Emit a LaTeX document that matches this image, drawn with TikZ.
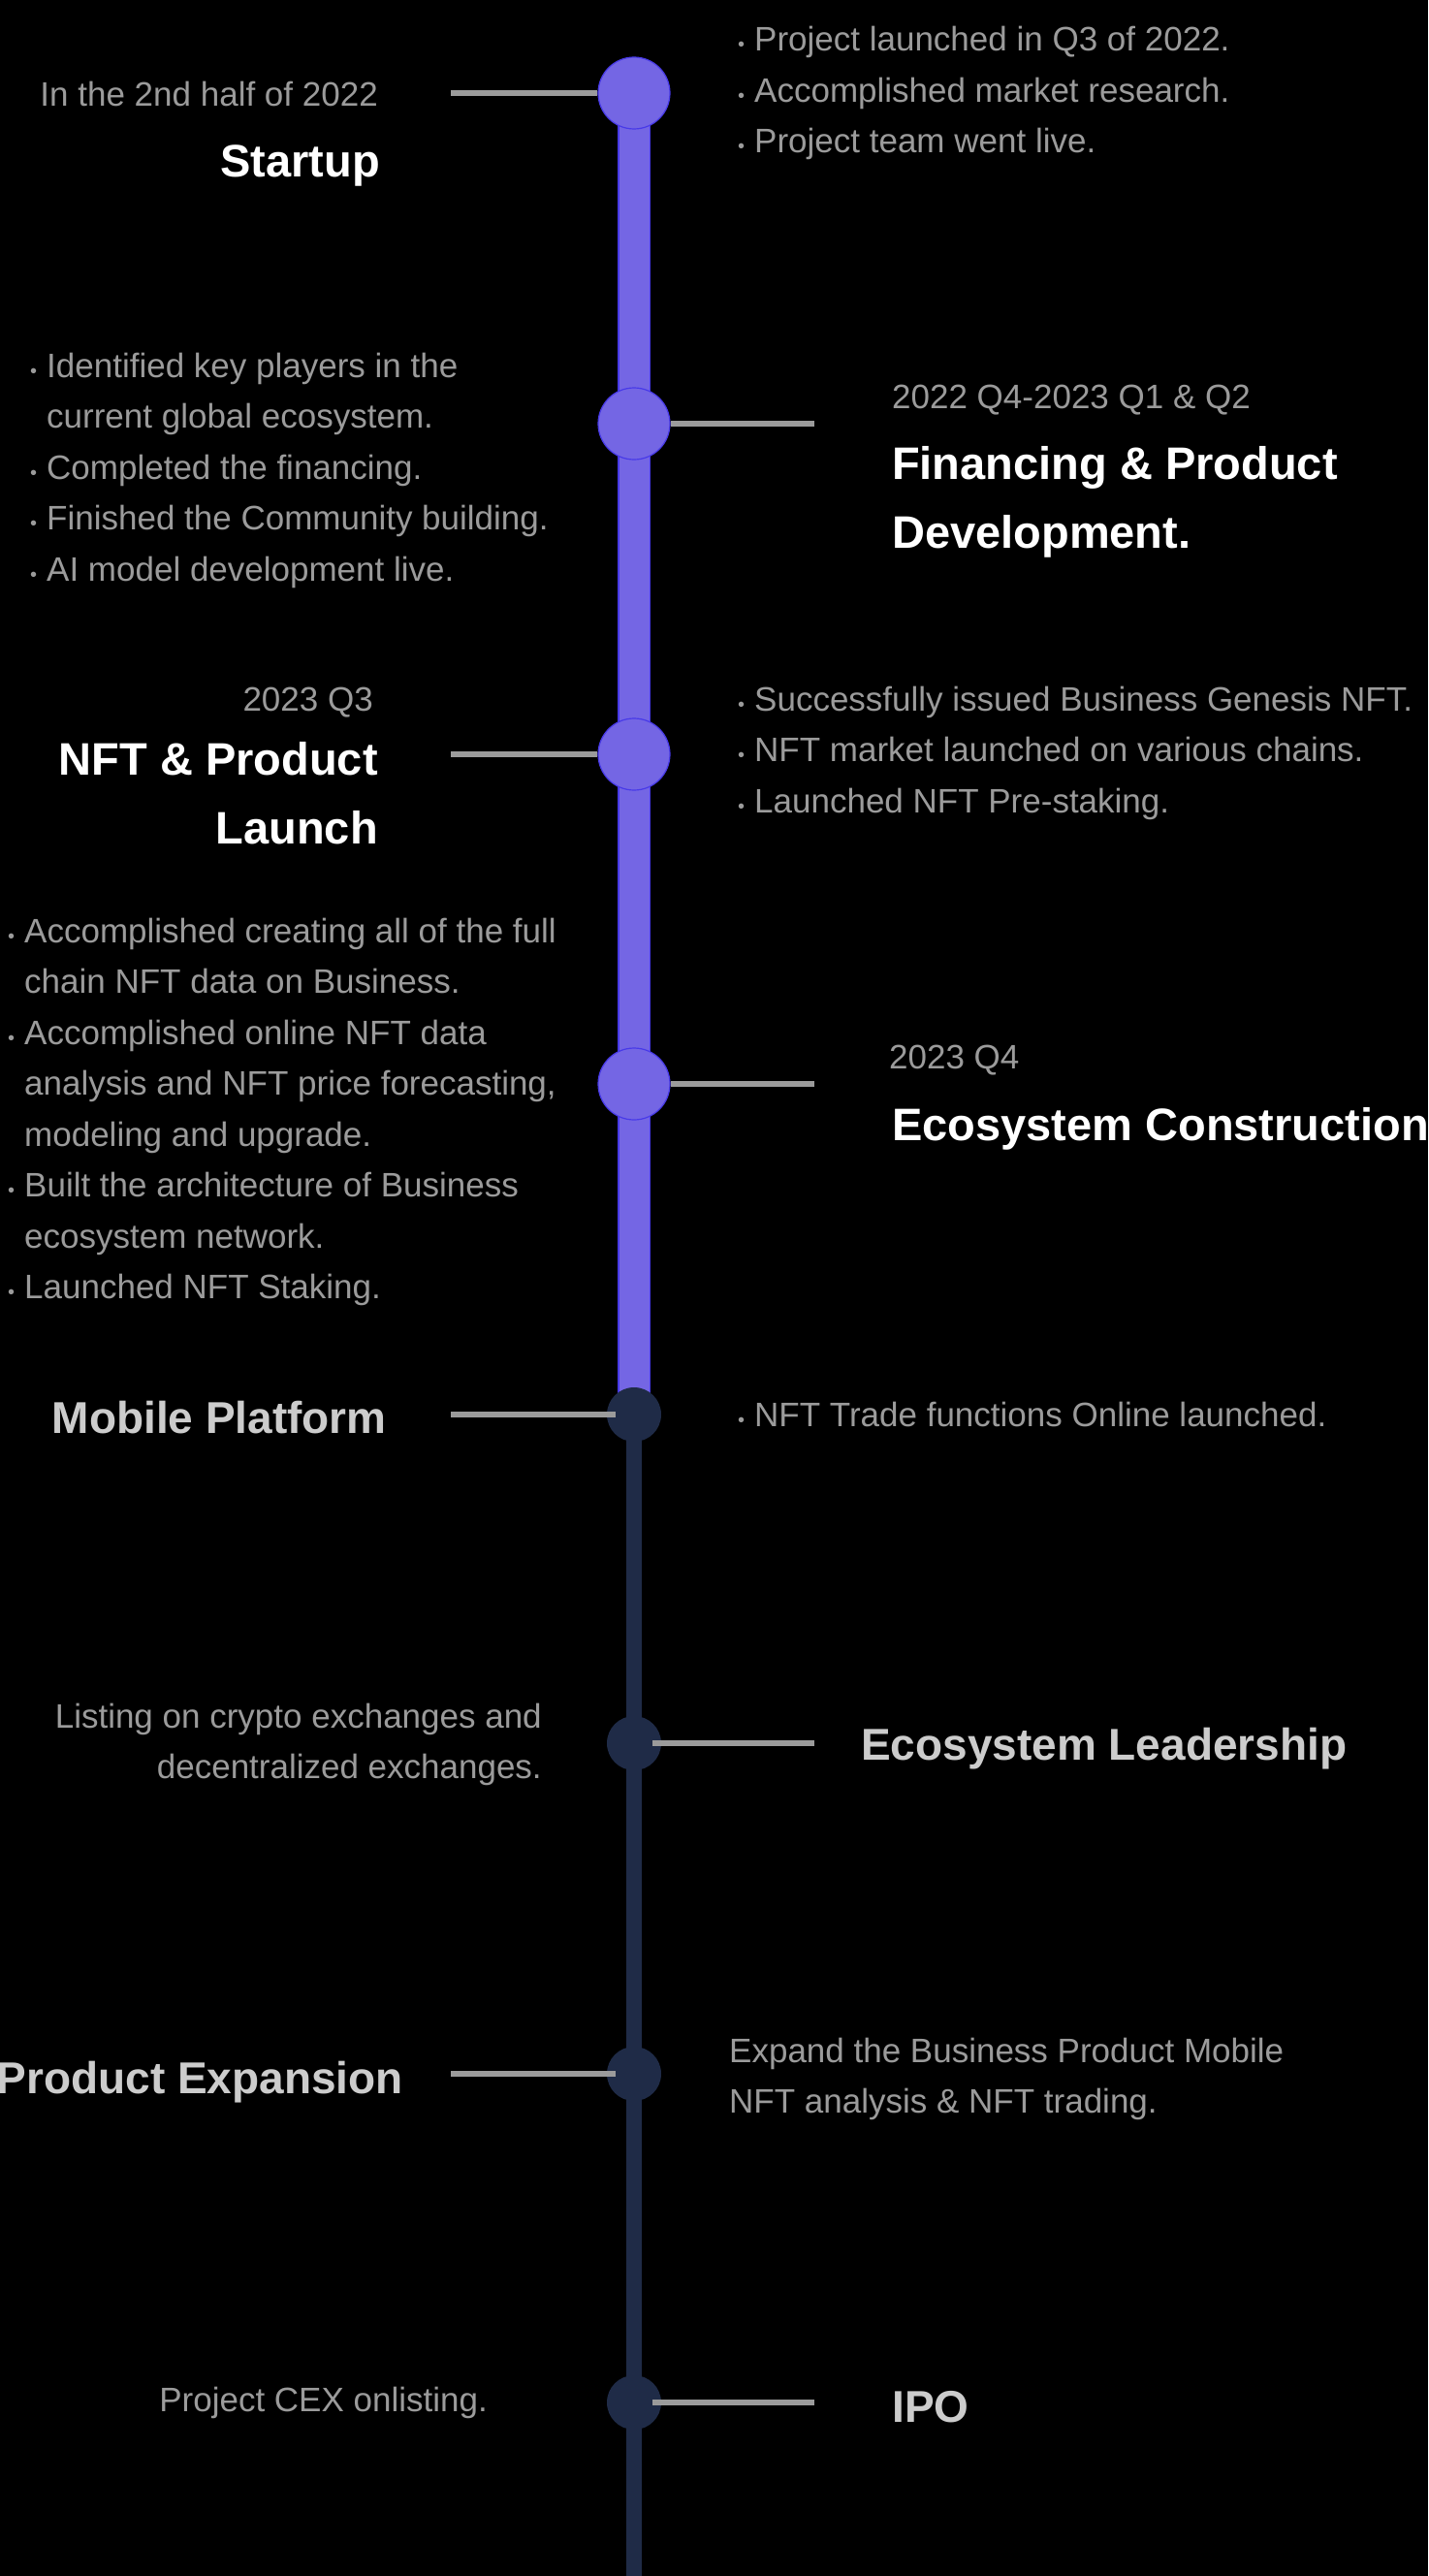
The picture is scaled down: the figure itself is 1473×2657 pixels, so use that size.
\documentclass[tikz,border=0pt]{standalone}
\usepackage{fontspec}
\setmainfont{Liberation Sans}
\definecolor{purp}{RGB}{116,102,228}
\definecolor{purpedge}{RGB}{72,58,232}
\definecolor{navy}{RGB}{31,43,71}
\definecolor{linkgray}{RGB}{155,155,155}
\definecolor{bodygray}{RGB}{155,155,155}
\definecolor{futuregray}{RGB}{204,204,204}
% hanging list marker
\newcommand\itm{\makebox[0pt][r]{{\fontsize{20}{20}\selectfont\textbullet}\hspace{10pt}}}
\tikzset{
  body/.style={font=\fontsize{35}{52.5}\selectfont, text=bodygray, inner sep=0pt},
  body right/.style={body, align=left, anchor=base west},
  body left/.style={body, align=right, anchor=base east},
  heading/.style={font=\fontsize{47}{71}\selectfont\bfseries, text=white, inner sep=0pt},
  future/.style={font=\fontsize{46}{62}\selectfont\bfseries, text=futuregray, inner sep=0pt},
  done/.style={circle, fill=purp, draw=purpedge, line width=1.2pt, minimum size=74pt, inner sep=0pt},
  todo/.style={circle, fill=navy, minimum size=56pt, inner sep=0pt},
  link/.style={draw=linkgray, line width=6pt},
}
\begin{document}
\begin{tikzpicture}[x=1pt,y=-1pt]
\fill[black] (0,0) rectangle (1473,2657);
\useasboundingbox (0,0) rectangle (1473,2657);

% milestone positions on the axis
\coordinate (p1) at (654,96);
\coordinate (p2) at (654,437);
\coordinate (p3) at (654,778);
\coordinate (p4) at (654,1118);
\coordinate (p5) at (654,1459);
\coordinate (p6) at (654,1798);
\coordinate (p7) at (654,2139);
\coordinate (p8) at (654,2478);
\coordinate (tail) at (654,2657);

% axis: upcoming part, then completed part
\draw[navy, line width=16pt] (p5) -- (tail);
\draw[purpedge, line width=34pt] (p1) -- (p5);
\draw[purp, line width=31pt] (p1) -- (p5);

% milestones
\node[done] (m1) at (p1) {};
\node[done] (m2) at (p2) {};
\node[done] (m3) at (p3) {};
\node[done] (m4) at (p4) {};
\node[todo] (m5) at (p5) {};
\node[todo] (m6) at (p6) {};
\node[todo] (m7) at (p7) {};
\node[todo] (m8) at (p8) {};

% connector ends
\coordinate (k1) at (465,96);
\coordinate (k2) at (840,437);
\coordinate (k3) at (465,778);
\coordinate (k4) at (840,1118);
\coordinate (k5) at (465,1459);
\coordinate (k6) at (840,1798);
\coordinate (k7) at (465,2139);
\coordinate (k8) at (840,2478);

\draw[link] (m1.west) -- (k1);
\draw[link] (m2.east) -- (k2);
\draw[link] (m3.west) -- (k3);
\draw[link] (m4.east) -- (k4);
\draw[link, shorten <=-9pt] (m5.west) -- (k5);
\draw[link, shorten <=-9pt] (m6.east) -- (k6);
\draw[link, shorten <=-9pt] (m7.west) -- (k7);
\draw[link, shorten <=-9pt] (m8.east) -- (k8);

% (multi-line nodes sit on the baseline of their last line)

% 1 -- Startup
\node[body left] (d1) at (390,110) {In the 2nd half of 2022};
\node[heading, anchor=base east] (t1) at (392,183) {Startup};
\node[body right] (b1) at (778,158) {\itm Project launched in Q3 of 2022.\\
  \itm Accomplished market research.\\
  \itm Project team went live.};

% 2 -- Financing & Product Development
\node[body right] (b2) at (48,599) {\itm Identified key players in the\\
  current global ecosystem.\\
  \itm Completed the financing.\\
  \itm Finished the Community building.\\
  \itm AI model development live.};
\node[body, anchor=base west] (d2) at (920,421) {2022 Q4-2023 Q1 \& Q2};
\node[heading, align=left, anchor=base west] (t2) at (920,565) {Financing \& Product\\Development.};

% 3 -- NFT & Product Launch
\node[body left] (d3) at (385,733) {2023 Q3};
\node[heading, align=right, anchor=base east] (t3) at (390,870) {NFT \& Product\\Launch};
\node[body right] (b3) at (778,838) {\itm Successfully issued Business Genesis NFT.\\
  \itm NFT market launched on various chains.\\
  \itm Launched NFT Pre-staking.};

% 4 -- Ecosystem Construction
\node[body right] (b4) at (25,1339.5) {\itm Accomplished creating all of the full\\
  chain NFT data on Business.\\
  \itm Accomplished online NFT data\\
  analysis and NFT price forecasting,\\
  modeling and upgrade.\\
  \itm Built the architecture of Business\\
  ecosystem network.\\
  \itm Launched NFT Staking.};
\node[body, anchor=base west] (d4) at (917,1102) {2023 Q4};
\node[heading, anchor=base west] (t4) at (920,1176) {Ecosystem Construction};

% 5 -- Mobile Platform
\node[future, anchor=base east] (t5) at (399,1478) {Mobile Platform};
\node[body right] (b5) at (778,1471) {\itm NFT Trade functions Online launched.};

% 6 -- Ecosystem Leadership
\node[body left] (b6) at (559,1834.5) {Listing on crypto exchanges and\\decentralized exchanges.};
\node[future, anchor=base west] (t6) at (888,1815) {Ecosystem Leadership};

% 7 -- Product Expansion
\node[future, anchor=base east] (t7) at (416,2159) {Product Expansion};
\node[body right] (b7) at (752,2179.5) {Expand the Business Product Mobile\\NFT analysis \& NFT trading.};

% 8 -- IPO
\node[body left] (b8) at (503,2487) {Project CEX onlisting.};
\node[future, anchor=base west] (t8) at (920,2498) {IPO};
\end{tikzpicture}
\end{document}
